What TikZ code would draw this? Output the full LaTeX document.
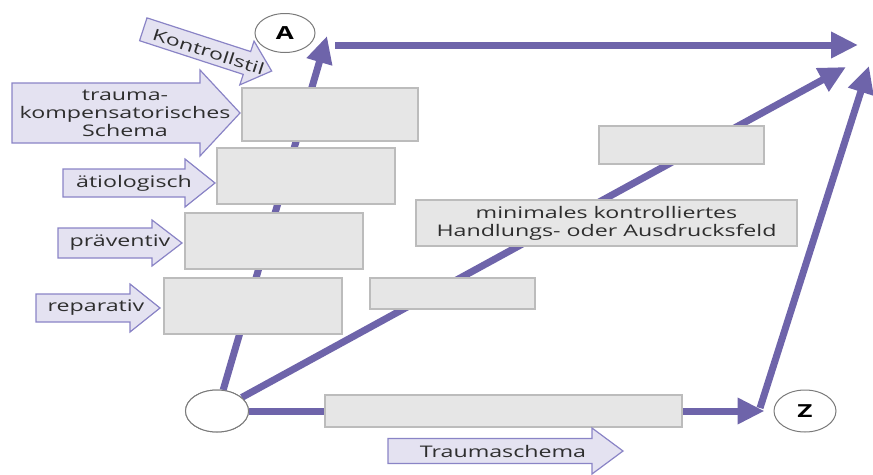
\documentclass[tikz,border=0pt]{standalone}
\usepackage{fontspec}
\setmainfont{Open Sans}[FakeStretch=1.45]
\usetikzlibrary{arrows.meta,shapes.geometric}
\definecolor{flowc}{HTML}{6E64AA}
\definecolor{tagfill}{HTML}{E4E2F1}
\definecolor{tagline}{HTML}{8A84C6}
\definecolor{boxfill}{HTML}{E6E6E6}
\definecolor{boxline}{HTML}{BCBCBC}
\definecolor{txt}{HTML}{2E2E2E}
\definecolor{ringc}{HTML}{7A7A7A}

% label arrow: tail x, head base x, tip x, axis y, body half height, head half height
\newcommand\tagarrow[6]{%
  \draw[tag] (#1,{#4-#5}) -- (#2,{#4-#5}) -- (#2,{#4-#6}) -- (#3,#4)
    -- (#2,{#4+#6}) -- (#2,{#4+#5}) -- (#1,{#4+#5}) -- cycle;}

\begin{document}
\begin{tikzpicture}[x=1pt,y=-1pt,
  flow/.style={draw=flowc,line width=7pt,-{Triangle[length=27pt,width=25pt]}},
  greybox/.style={draw=boxline,fill=boxfill,line width=1.2pt,inner sep=0pt},
  ring/.style={ellipse,draw=ringc,fill=white,line width=1pt,inner sep=0pt,
    font=\bfseries\fontsize{18}{20}\selectfont},
  tag/.style={draw=tagline,fill=tagfill,line width=1.2pt,line join=miter},
  tagtext/.style={text=txt,inner sep=0pt,align=center,
    font=\fontsize{16}{18}\selectfont}]
\useasboundingbox (0,0) rectangle (873,474);

% start, goal and A
\node[ring,minimum width=63pt,minimum height=42pt] (s) at (217,411) {};
\node[ring,minimum width=62pt,minimum height=42pt] (Z) at (805,411) {Z};
\node[ring,minimum width=60pt,minimum height=39pt] (A) at (285,33) {A};

% free ends of the flow arrows
\coordinate (tl) at (327,36);
\coordinate (ts) at (335,45);
\coordinate (tr) at (858,45);
\coordinate (dr) at (846,67);
\coordinate (zr) at (760,408);
\coordinate (rr) at (869,66);

% flow arrows
\draw[flow] (s) -- (tl);
\draw[flow] (ts) -- (tr);
\draw[flow] (s) -- (dr);
\draw[flow,shorten >=9pt] (s) -- (Z);
\draw[flow] (zr) -- (rr);

% redraw the start ring over the line ends
\node[ring,minimum width=63pt,minimum height=42pt] at (s) {};

% grey fields
\node[greybox,minimum width=176pt,minimum height=53pt] (b1) at (330,114.5) {};
\node[greybox,minimum width=178pt,minimum height=56pt] (b2) at (306,176) {};
\node[greybox,minimum width=178pt,minimum height=56pt] (b3) at (274,241) {};
\node[greybox,minimum width=178pt,minimum height=56pt] (b4) at (253,306) {};
\node[greybox,minimum width=165pt,minimum height=31pt] (b5) at (452.5,293.5) {};
\node[greybox,minimum width=381pt,minimum height=46pt,text=txt,align=center,
  font=\fontsize{16}{18}\selectfont] (b6) at (606.5,223)
  {minimales kontrolliertes\\Handlungs- oder Ausdrucksfeld};
\node[greybox,minimum width=165pt,minimum height=38pt] (b7) at (681.5,145) {};
\node[greybox,minimum width=357pt,minimum height=32pt] (b8) at (503.5,411) {};

% label arrows
\tagarrow{12}{200}{240}{113}{30}{43}
\node[tagtext] (l1) at (125,113) {trauma-\\kompensatorisches\\Schema};
\tagarrow{63}{185}{215}{183}{14}{24}
\node[tagtext] (l2) at (134,183) {ätiologisch};
\tagarrow{58}{152}{182}{243}{15}{23}
\node[tagtext] (l3) at (120,243) {präventiv};
\tagarrow{36}{130}{160}{308}{14}{24}
\node[tagtext] (l4) at (96,308) {reparativ};
\tagarrow{388}{592}{623}{451}{12.5}{23}
\node[tagtext] (l5) at (503,451) {Traumaschema};
\begin{scope}[shift={(207,50)},rotate=-18]
  \tagarrow{-67}{42}{68}{0}{12}{23}
  \node[tagtext,rotate=-18] (l6) at (2,1) {Kontrollstil};
\end{scope}
\end{tikzpicture}
\end{document}
